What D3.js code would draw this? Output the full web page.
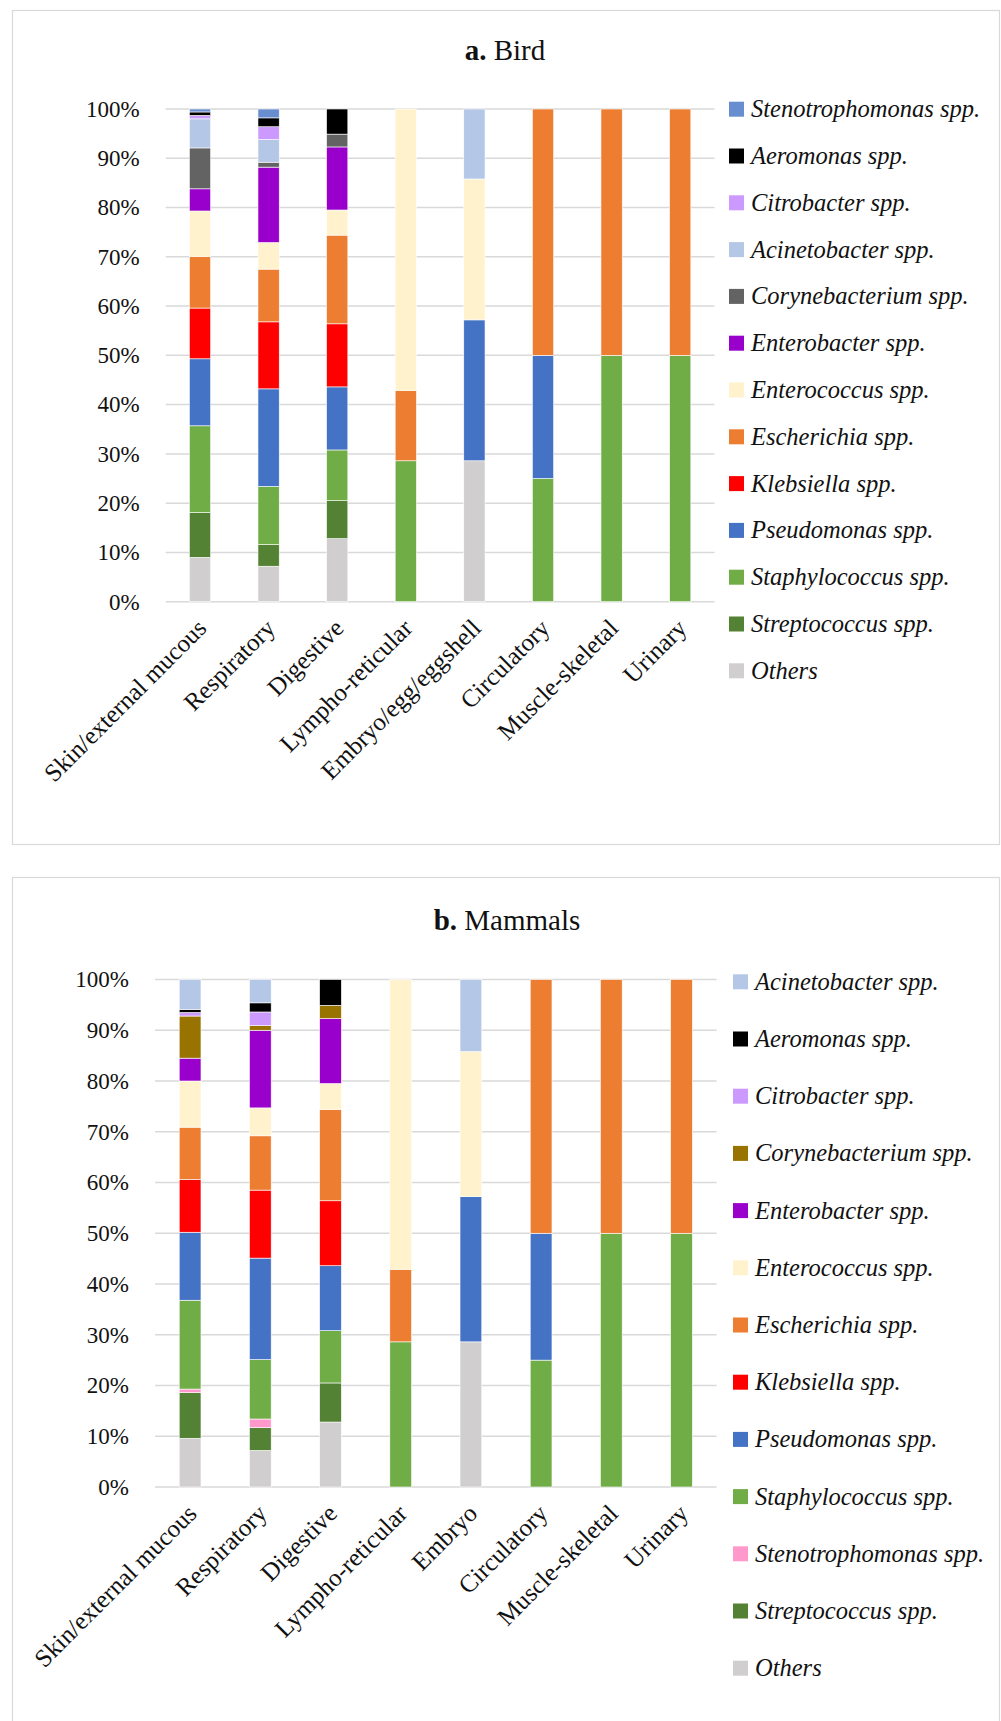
<!DOCTYPE html>
<html>
<head>
<meta charset="utf-8">
<script src="https://cdn.jsdelivr.net/npm/d3@7"></script>
<style>
  body { margin: 0; background: #fff; }
  svg { display: block; font-family: "Liberation Serif", "Times New Roman", serif; }
</style>
</head>
<body>
<svg id="chart" width="1001" height="1721"></svg>
<script>
// Organ systems (x categories)
const birdOrgans = ["Skin/external mucous", "Respiratory", "Digestive", "Lympho-reticular",
  "Embryo/egg/eggshell", "Circulatory", "Muscle-skeletal", "Urinary"];
const mammalOrgans = ["Skin/external mucous", "Respiratory", "Digestive", "Lympho-reticular",
  "Embryo", "Circulatory", "Muscle-skeletal", "Urinary"];

// Percent axis ticks
const yTicks = [0, 10, 20, 30, 40, 50, 60, 70, 80, 90, 100];

// a. Bird — share of isolates (%) per organ system, one array per genus
const birdOthers            = [9.0, 7.2, 12.8, 0, 28.6, 0, 0, 0];
const birdStreptococcus     = [9.1, 4.4, 7.7, 0, 0, 0, 0, 0];
const birdStaphylococcus    = [17.6, 11.8, 10.3, 28.6, 0, 25, 50, 50];
const birdPseudomonas       = [13.6, 19.8, 12.8, 0, 28.6, 25, 0, 0];
const birdKlebsiella        = [10.3, 13.6, 12.8, 0, 0, 0, 0, 0];
const birdEscherichia       = [10.5, 10.7, 18.0, 14.3, 0, 50, 50, 50];
const birdEnterococcus      = [9.2, 5.4, 5.1, 57.1, 28.6, 0, 0, 0];
const birdEnterobacter      = [4.5, 15.3, 12.8, 0, 0, 0, 0, 0];
const birdCorynebacterium   = [8.3, 1.0, 2.6, 0, 0, 0, 0, 0];
const birdAcinetobacter     = [5.9, 4.6, 0, 0, 14.2, 0, 0, 0];
const birdCitrobacter       = [0.7, 2.6, 0, 0, 0, 0, 0, 0];
const birdAeromonas         = [0.7, 1.8, 5.1, 0, 0, 0, 0, 0];
const birdStenotrophomonas  = [0.6, 1.8, 0, 0, 0, 0, 0, 0];

// b. Mammals — share of isolates (%) per organ system, one array per genus
const mammalOthers           = [9.6, 7.2, 12.8, 0, 28.6, 0, 0, 0];
const mammalStreptococcus    = [9.0, 4.5, 7.7, 0, 0, 0, 0, 0];
const mammalStenotrophomonas = [0.7, 1.7, 0, 0, 0, 0, 0, 0];
const mammalStaphylococcus   = [17.5, 11.7, 10.3, 28.6, 0, 25, 50, 50];
const mammalPseudomonas      = [13.4, 20.0, 12.8, 0, 28.6, 25, 0, 0];
const mammalKlebsiella       = [10.4, 13.4, 12.8, 0, 0, 0, 0, 0];
const mammalEscherichia      = [10.3, 10.7, 18.0, 14.3, 0, 50, 50, 50];
const mammalEnterococcus     = [9.1, 5.5, 5.1, 57.1, 28.6, 0, 0, 0];
const mammalEnterobacter     = [4.5, 15.3, 12.8, 0, 0, 0, 0, 0];
const mammalCorynebacterium  = [8.3, 0.9, 2.6, 0, 0, 0, 0, 0];
const mammalCitrobacter      = [0.7, 2.7, 0, 0, 0, 0, 0, 0];
const mammalAeromonas        = [0.6, 1.8, 5.1, 0, 0, 0, 0, 0];
const mammalAcinetobacter    = [5.9, 4.6, 0, 0, 14.2, 0, 0, 0];

// Series in stacking order (bottom to top)
const birdSeries = [
  { name: "Others", values: birdOthers, color: "#d0cece" },
  { name: "Streptococcus spp.", values: birdStreptococcus, color: "#548235" },
  { name: "Staphylococcus spp.", values: birdStaphylococcus, color: "#70ad47" },
  { name: "Pseudomonas spp.", values: birdPseudomonas, color: "#4472c4" },
  { name: "Klebsiella spp.", values: birdKlebsiella, color: "#ff0000" },
  { name: "Escherichia spp.", values: birdEscherichia, color: "#ed7d31" },
  { name: "Enterococcus spp.", values: birdEnterococcus, color: "#fff2cc" },
  { name: "Enterobacter spp.", values: birdEnterobacter, color: "#9900cc" },
  { name: "Corynebacterium spp.", values: birdCorynebacterium, color: "#636363" },
  { name: "Acinetobacter spp.", values: birdAcinetobacter, color: "#b4c7e7" },
  { name: "Citrobacter spp.", values: birdCitrobacter, color: "#cc99ff" },
  { name: "Aeromonas spp.", values: birdAeromonas, color: "#000000" },
  { name: "Stenotrophomonas spp.", values: birdStenotrophomonas, color: "#698ed0" }
];

const mammalSeries = [
  { name: "Others", values: mammalOthers, color: "#d0cece" },
  { name: "Streptococcus spp.", values: mammalStreptococcus, color: "#548235" },
  { name: "Stenotrophomonas spp.", values: mammalStenotrophomonas, color: "#ff99cc" },
  { name: "Staphylococcus spp.", values: mammalStaphylococcus, color: "#70ad47" },
  { name: "Pseudomonas spp.", values: mammalPseudomonas, color: "#4472c4" },
  { name: "Klebsiella spp.", values: mammalKlebsiella, color: "#ff0000" },
  { name: "Escherichia spp.", values: mammalEscherichia, color: "#ed7d31" },
  { name: "Enterococcus spp.", values: mammalEnterococcus, color: "#fff2cc" },
  { name: "Enterobacter spp.", values: mammalEnterobacter, color: "#9900cc" },
  { name: "Corynebacterium spp.", values: mammalCorynebacterium, color: "#997300" },
  { name: "Citrobacter spp.", values: mammalCitrobacter, color: "#cc99ff" },
  { name: "Aeromonas spp.", values: mammalAeromonas, color: "#000000" },
  { name: "Acinetobacter spp.", values: mammalAcinetobacter, color: "#b4c7e7" }
];

const svg = d3.select("#chart");
svg.append("rect").attr("width", 1001).attr("height", 1721).attr("fill", "#fff");

function drawPanel(opt) {
  const g = svg.append("g");

  // panel frame
  g.append("rect")
    .attr("x", opt.frame[0]).attr("y", opt.frame[1])
    .attr("width", opt.frame[2]).attr("height", opt.frame[3])
    .attr("fill", "none").attr("stroke", "#d9d9d9").attr("stroke-width", 1.2);

  // title
  const title = g.append("text")
    .attr("x", opt.titleX).attr("y", opt.titleY)
    .attr("text-anchor", "middle")
    .attr("font-size", 29).attr("fill", "#111");
  title.append("tspan").attr("font-weight", "bold").text(opt.letter);
  title.append("tspan").text(" " + opt.title);

  const x = d3.scaleBand()
    .domain(opt.organs)
    .range([opt.left, opt.right])
    .paddingInner(0.69)
    .paddingOuter(0.345);

  const y = d3.scaleLinear().domain([0, 100]).range([opt.bottom, opt.top]);

  // gridlines
  g.append("g").selectAll("line").data(yTicks).join("line")
    .attr("x1", opt.left).attr("x2", opt.right)
    .attr("y1", d => y(d)).attr("y2", d => y(d))
    .attr("stroke", "#d9d9d9").attr("stroke-width", 1.5);

  // y tick labels
  g.append("g").selectAll("text").data(yTicks).join("text")
    .attr("x", opt.left - 26).attr("y", d => y(d))
    .attr("dy", "0.34em")
    .attr("text-anchor", "end")
    .attr("font-size", 23).attr("fill", "#111")
    .text(d => d + "%");

  // stacked bars
  const keys = opt.series.map(s => s.name);
  const rows = opt.organs.map((o, i) => {
    const r = { organ: o };
    opt.series.forEach(s => { r[s.name] = s.values[i]; });
    return r;
  });
  const stacked = d3.stack().keys(keys)(rows);
  const colorOf = new Map(opt.series.map(s => [s.name, s.color]));

  g.append("g").selectAll("g").data(stacked).join("g")
    .attr("fill", d => colorOf.get(d.key))
    .selectAll("rect")
    .data(d => d.filter(p => p[1] - p[0] > 0))
    .join("rect")
      .attr("x", d => x(d.data.organ))
      .attr("width", x.bandwidth())
      .attr("y", d => y(d[1]))
      .attr("height", d => y(d[0]) - y(d[1]))
      .attr("stroke", "#ffffff").attr("stroke-width", 0.6);

  // category labels, rotated
  g.append("g").selectAll("text").data(opt.organs).join("text")
    .attr("transform", d => `translate(${x(d) + x.bandwidth() / 2 + 8},${opt.bottom + 28}) rotate(-45)`)
    .attr("text-anchor", "end")
    .attr("font-size", 25).attr("fill", "#111")
    .text(d => d);

  // legend (top entry = top of the stack)
  const legendItems = opt.series.slice().reverse();
  const lg = g.append("g").selectAll("g").data(legendItems).join("g")
    .attr("transform", (d, i) => `translate(${opt.legendX},${opt.legendY + i * opt.legendStep})`);
  lg.append("rect")
    .attr("x", 0).attr("y", -7).attr("width", 15).attr("height", 15)
    .attr("fill", d => d.color);
  lg.append("text")
    .attr("x", 22).attr("y", 0).attr("dy", "0.35em")
    .attr("font-size", 24.5).attr("font-style", "italic").attr("fill", "#111")
    .text(d => d.name);
}

drawPanel({
  frame: [12.5, 10.5, 987, 834],
  letter: "a.", title: "Bird", titleX: 505, titleY: 60,
  organs: birdOrgans, series: birdSeries,
  left: 165.7, right: 714.5, top: 109, bottom: 601.7,
  legendX: 729, legendY: 108.7, legendStep: 46.8
});

drawPanel({
  frame: [12.5, 877.5, 987, 900],
  letter: "b.", title: "Mammals", titleX: 507, titleY: 930,
  organs: mammalOrgans, series: mammalSeries,
  left: 155, right: 716.6, top: 979.5, bottom: 1487,
  legendX: 733, legendY: 981.3, legendStep: 57.2
});
</script>
</body>
</html>
